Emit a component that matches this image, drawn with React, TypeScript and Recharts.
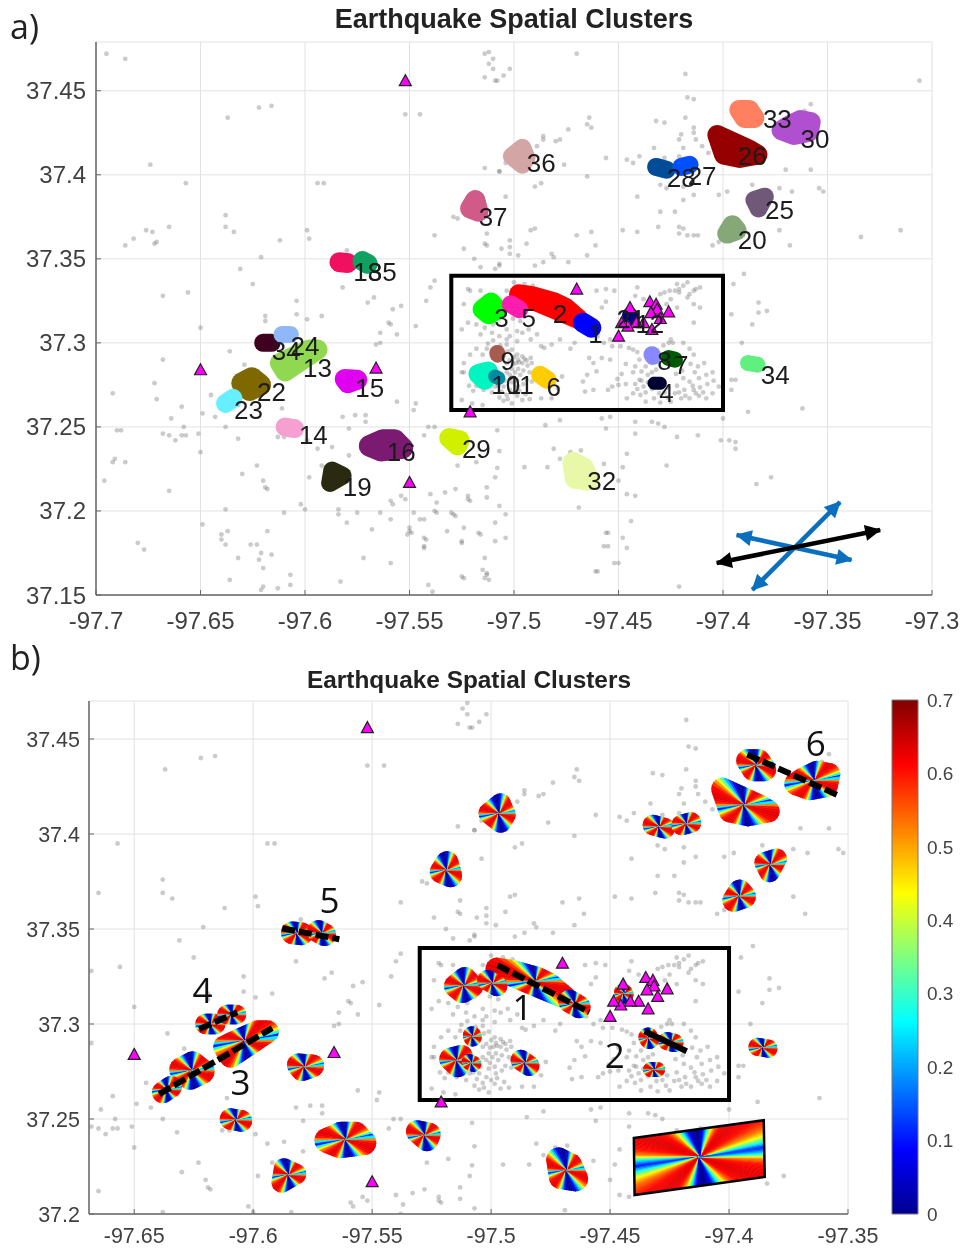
// Earthquake spatial clusters, panels a) and b) with a jet colour bar
import { ScatterChart, Scatter, XAxis, YAxis, CartesianGrid, ReferenceArea, BarChart, Bar } from 'recharts'

type LL = [number, number]

// ─── Data ────────────────────────────────────────────────────────────────────

const quakes: LL[] = [
  [-97.695,37.472],[-97.686,37.469],[-97.622,37.44],[-97.616,37.441],[-97.637,37.434],[-97.552,37.436],[-97.545,37.436],[-97.674,37.406],[-97.657,37.395],[-97.594,37.395],[-97.591,37.395],
  [-97.638,37.376],[-97.638,37.369],[-97.634,37.366],[-97.665,37.369],[-97.676,37.367],[-97.673,37.366],[-97.682,37.362],[-97.686,37.358],[-97.672,37.359],[-97.671,37.36],[-97.612,37.361],[-97.599,37.367],[-97.598,37.362],
  [-97.621,37.351],[-97.631,37.344],[-97.625,37.335],[-97.668,37.328],[-97.656,37.33],[-97.604,37.325],[-97.619,37.316],[-97.619,37.313],[-97.604,37.317],[-97.599,37.314],[-97.592,37.316],[-97.65,37.309],[-97.58,37.355],[-97.582,37.333],
  [-97.57,37.324],[-97.567,37.327],[-97.558,37.32],[-97.554,37.322],[-97.559,37.311],[-97.547,37.31],[-97.542,37.325],[-97.54,37.333],[-97.538,37.337],[-97.538,37.364],[-97.529,37.375],[-97.527,37.374],[-97.524,37.356],[-97.513,37.358],[-97.513,37.365],
  [-97.519,37.35],[-97.516,37.345],[-97.507,37.346],[-97.521,37.331],[-97.514,37.404],[-97.507,37.402],[-97.512,37.473],[-97.51,37.469],[-97.512,37.466],[-97.51,37.463],[-97.514,37.458],[-97.508,37.456],
  [-97.514,37.472],[-97.47,37.472],[-97.502,37.463],[-97.505,37.459],[-97.509,37.456],[-97.306,37.456],[-97.418,37.46],[-97.417,37.446],[-97.414,37.445],[-97.432,37.432],[-97.428,37.431],[-97.418,37.434],[-97.464,37.434],[-97.465,37.43],[-97.463,37.428],
  [-97.474,37.427],[-97.478,37.421],[-97.48,37.42],[-97.486,37.423],[-97.486,37.421],[-97.489,37.417],[-97.456,37.41],[-97.433,37.416],[-97.428,37.41],[-97.446,37.409],[-97.443,37.407],[-97.44,37.411],[-97.414,37.428],[-97.414,37.425],[-97.42,37.424],[-97.413,37.421],[-97.421,37.421],[-97.419,37.416],[-97.41,37.417],[-97.407,37.413],[-97.421,37.411],
  [-97.358,37.442],[-97.361,37.438],[-97.37,37.403],[-97.358,37.403],[-97.402,37.388],[-97.398,37.39],[-97.386,37.394],[-97.373,37.392],[-97.367,37.39],[-97.354,37.392],[-97.352,37.39],[-97.43,37.394],[-97.427,37.392],[-97.419,37.393],[-97.414,37.388],[-97.419,37.385],[-97.441,37.387],[-97.43,37.378],[-97.423,37.378],
  [-97.421,37.369],[-97.419,37.368],[-97.421,37.365],[-97.417,37.364],[-97.414,37.364],[-97.412,37.364],[-97.448,37.367],[-97.441,37.366],[-97.431,37.369],[-97.405,37.358],[-97.402,37.36],[-97.373,37.367],[-97.368,37.358],[-97.334,37.363],[-97.315,37.367],[-97.492,37.367],[-97.49,37.368],[-97.47,37.364],[-97.463,37.366],[-97.461,37.358],
  [-97.465,37.399],[-97.487,37.395],[-97.49,37.393],[-97.476,37.406],[-97.507,37.402],[-97.504,37.407],[-97.504,37.387],[-97.502,37.361],[-97.502,37.357],[-97.502,37.353],[-97.506,37.356],[-97.498,37.352],[-97.494,37.359],[-97.482,37.353],[-97.481,37.351],[-97.486,37.348],[-97.49,37.346],[-97.474,37.348],[-97.465,37.352],[-97.507,37.347],[-97.509,37.344],[-97.514,37.359],
  [-97.39,37.341],[-97.395,37.335],[-97.383,37.324],[-97.379,37.319],[-97.383,37.318],[-97.386,37.311],[-97.396,37.317],
  [-97.4605,37.331],[-97.456,37.332],[-97.452,37.331],[-97.441,37.333],[-97.442,37.328],[-97.438,37.326],[-97.43,37.329],[-97.428,37.33],[-97.4255,37.331],[-97.422,37.335],[-97.421,37.332],[-97.419,37.334],[-97.416,37.329],[-97.417,37.327],[-97.414,37.331],[-97.413,37.332],[-97.411,37.333],[-97.421,37.33],[-97.423,37.331],[-97.417,37.336],
  [-97.425,37.326],[-97.427,37.323],[-97.411,37.321],[-97.414,37.312],[-97.414,37.323],[-97.422,37.321],[-97.458,37.321],[-97.456,37.3245],[-97.454,37.302],[-97.457,37.3],[-97.46,37.304],[-97.453,37.298],[-97.449,37.298],[-97.445,37.297],[-97.443,37.296],[-97.458,37.291],[-97.462,37.288],[-97.464,37.291],[-97.454,37.29],[-97.4605,37.283],[-97.465,37.281],
  [-97.44,37.29],[-97.442,37.286],[-97.439,37.283],[-97.437,37.286],[-97.434,37.288],[-97.436,37.281],[-97.443,37.2825],[-97.44,37.278],[-97.434,37.2825],[-97.432,37.284],[-97.442,37.2755],[-97.438,37.274],[-97.425,37.302],[-97.424,37.3],[-97.426,37.3],[-97.419,37.3],[-97.416,37.2965],[-97.414,37.293],[-97.409,37.288],[-97.412,37.286],[-97.405,37.2825],[-97.408,37.281],[-97.4115,37.279],
  [-97.416,37.277],[-97.419,37.279],[-97.422,37.2745],[-97.4185,37.272],[-97.423,37.27],[-97.426,37.273],[-97.414,37.272],[-97.413,37.27],[-97.416,37.267],[-97.42,37.267],[-97.425,37.265],[-97.4305,37.27],[-97.433,37.267],[-97.437,37.265],[-97.4395,37.269],[-97.443,37.27],[-97.446,37.267],[-97.45,37.275],[-97.453,37.274],[-97.455,37.272],[-97.462,37.272],[-97.466,37.271],[-97.405,37.27],[-97.408,37.267],[-97.402,37.274],
  [-97.522,37.332],[-97.516,37.331],[-97.5035,37.331],[-97.5,37.336],[-97.495,37.335],[-97.491,37.334],[-97.524,37.323],[-97.522,37.312],[-97.525,37.308],[-97.518,37.311],[-97.516,37.305],[-97.514,37.309],[-97.51,37.311],[-97.507,37.3145],[-97.5105,37.306],[-97.507,37.304],[-97.5035,37.308],[-97.502,37.304],[-97.4985,37.307],[-97.497,37.313],[-97.5005,37.3145],[-97.5035,37.302],[-97.4985,37.301],[-97.496,37.306],[-97.493,37.308],[-97.492,37.302],[-97.489,37.305],[-97.487,37.298],[-97.4855,37.297],[-97.482,37.299],[-97.478,37.302],[-97.473,37.2965],[-97.471,37.3],
  [-97.518,37.2965],[-97.521,37.293],[-97.515,37.293],[-97.524,37.288],[-97.513,37.2965],[-97.5035,37.299],[-97.503,37.295],[-97.501,37.296],[-97.4985,37.293],[-97.496,37.292],[-97.498,37.29],[-97.494,37.2895],[-97.496,37.288],[-97.492,37.291],[-97.499,37.288],[-97.502,37.2895],[-97.4915,37.288],[-97.5035,37.288],[-97.501,37.2845],[-97.498,37.2845],[-97.502,37.281],[-97.497,37.281],[-97.501,37.2765],[-97.5035,37.2825],[-97.494,37.278],[-97.498,37.274],[-97.4915,37.277],[-97.4925,37.2665],[-97.496,37.266],[-97.4985,37.2685],[-97.502,37.272],[-97.5035,37.269],[-97.505,37.274],[-97.506,37.271],[-97.509,37.274],[-97.511,37.2775],[-97.5145,37.272],[-97.518,37.2745],[-97.5215,37.2745],[-97.524,37.2825],[-97.525,37.2825],[-97.503,37.2665],[-97.501,37.264],[-97.525,37.266],[-97.52,37.264],[-97.515,37.263],[-97.479,37.273],[-97.477,37.28],[-97.482,37.267],[-97.467,37.277],[-97.487,37.267],
  [-97.5,37.2915],[-97.4975,37.2885],[-97.495,37.2905],[-97.4935,37.2865],[-97.5005,37.2875],[-97.4995,37.2825],[-97.4955,37.2835],[-97.4925,37.2825],[-97.5005,37.2795],[-97.4985,37.2775],[-97.4955,37.2755],[-97.5045,37.2775],[-97.5065,37.2805],[-97.5075,37.2745],[-97.5105,37.2705],[-97.5,37.2705],[-97.4975,37.2715],[-97.4945,37.2695],[-97.5125,37.2755],[-97.5165,37.2775],[-97.5195,37.2715],[-97.507,37.2675],[-97.505,37.2655],[-97.51,37.3015],[-97.5125,37.2995],[-97.5065,37.2985],[-97.5085,37.2955],
  [-97.439,37.2775],[-97.436,37.2765],[-97.433,37.2785],[-97.441,37.2725],[-97.437,37.2705],[-97.434,37.2725],[-97.43,37.2735],[-97.428,37.2705],[-97.4265,37.2675],[-97.43,37.2645],[-97.421,37.2705],[-97.418,37.2685],[-97.4145,37.2745],[-97.411,37.2735],[-97.4095,37.2705],[-97.4115,37.2685],[-97.4075,37.2755],[-97.4045,37.2775],[-97.4225,37.2815],[-97.4195,37.2835],[-97.4135,37.2825],[-97.4155,37.2875],[-97.441,37.2945],[-97.436,37.2925],[-97.4315,37.2955],[-97.4285,37.2985],[-97.4465,37.2875],[-97.4485,37.2815],[-97.4505,37.2785],[-97.4465,37.2755],
  [-97.668,37.29],[-97.636,37.295],[-97.672,37.276],[-97.692,37.27],[-97.671,37.2665],[-97.645,37.269],[-97.643,37.256],[-97.649,37.258],[-97.659,37.262],[-97.629,37.287],[-97.632,37.263],[-97.611,37.261],[-97.664,37.255],[-97.638,37.25],[-97.688,37.248],[-97.69,37.248],[-97.668,37.246],[-97.665,37.245],[-97.662,37.242],[-97.658,37.25],[-97.659,37.245],[-97.657,37.245],[-97.651,37.246],[-97.65,37.235],[-97.632,37.243],[-97.613,37.244],[-97.61,37.244],
  [-97.691,37.231],[-97.692,37.229],[-97.686,37.229],[-97.696,37.218],[-97.665,37.212],[-97.623,37.227],[-97.63,37.222],[-97.619,37.214],[-97.62,37.218],[-97.618,37.213],[-97.602,37.204],[-97.6,37.201],[-97.61,37.199],[-97.638,37.201],[-97.649,37.192],[-97.618,37.188],[-97.637,37.188],[-97.64,37.186],[-97.64,37.183],[-97.638,37.18],[-97.68,37.181],[-97.677,37.177],
  [-97.626,37.18],[-97.623,37.18],[-97.621,37.175],[-97.616,37.174],[-97.632,37.172],[-97.622,37.171],[-97.62,37.166],[-97.636,37.159],[-97.607,37.162],[-97.607,37.156],[-97.62,37.155],[-97.621,37.153],[-97.613,37.154],
  [-97.599,37.242],[-97.594,37.237],[-97.587,37.238],[-97.592,37.227],[-97.586,37.226],[-97.598,37.22],[-97.579,37.233],[-97.582,37.256],[-97.576,37.257],[-97.571,37.257],[-97.579,37.249],[-97.571,37.253],[-97.556,37.265],[-97.548,37.26],[-97.547,37.264],[-97.564,37.306],[-97.564,37.3],[-97.566,37.299],[-97.556,37.305],[-97.56,37.312],[-97.541,37.25],[-97.538,37.25],[-97.508,37.248],[-97.543,37.245],
  [-97.584,37.201],[-97.584,37.198],[-97.575,37.199],[-97.564,37.199],[-97.559,37.195],[-97.58,37.193],[-97.568,37.189],[-97.55,37.19],[-97.549,37.187],[-97.551,37.186],[-97.543,37.195],[-97.537,37.199],[-97.529,37.198],[-97.524,37.19],[-97.572,37.172],[-97.583,37.158],[-97.559,37.169],[-97.542,37.183],[-97.543,37.178],[-97.541,37.156],[-97.539,37.152],[-97.525,37.181],[-97.516,37.186],[-97.514,37.172],[-97.524,37.16],[-97.513,37.162],[-97.512,37.159],
  [-97.507,37.2356],[-97.508,37.2256],[-97.509,37.22],[-97.513,37.214],[-97.513,37.208],[-97.507,37.203],[-97.504,37.198],[-97.509,37.193],[-97.517,37.187],[-97.504,37.184],[-97.509,37.182],[-97.525,37.182],[-97.515,37.165],[-97.513,37.163],[-97.514,37.16],[-97.525,37.161],[-97.532,37.188],
  [-97.528,37.213],[-97.522,37.209],[-97.522,37.207],[-97.521,37.206],[-97.533,37.211],[-97.54,37.21],[-97.537,37.205],[-97.538,37.2],[-97.53,37.199],[-97.528,37.197],[-97.545,37.195],[-97.55,37.188],[-97.548,37.199],[-97.559,37.206],[-97.558,37.204],[-97.554,37.209],[-97.552,37.207],[-97.543,37.184],[-97.543,37.179],[-97.527,37.227],[-97.518,37.229],
  [-97.495,37.226],[-97.484,37.226],[-97.481,37.237],[-97.478,37.231],[-97.473,37.235],[-97.468,37.236],[-97.457,37.228],[-97.456,37.249],[-97.469,37.202],[-97.456,37.187],[-97.457,37.179],[-97.452,37.169],[-97.461,37.164],
  [-97.446,37.234],[-97.448,37.226],[-97.45,37.218],[-97.446,37.21],[-97.442,37.209],[-97.444,37.194],[-97.455,37.187],[-97.448,37.184],[-97.446,37.178],[-97.455,37.179],[-97.45,37.169],[-97.46,37.164],[-97.421,37.155],[-97.427,37.227],[-97.422,37.244],[-97.412,37.245],[-97.442,37.253],[-97.442,37.246],[-97.434,37.253],[-97.431,37.252],[-97.428,37.25],[-97.401,37.242],[-97.397,37.242],[-97.394,37.241],[-97.394,37.237],[-97.384,37.216],[-97.377,37.22],
  [-97.454,37.256],[-97.458,37.255],[-97.478,37.254],[-97.485,37.251],[-97.4,37.255],[-97.388,37.259],[-97.362,37.261],[-97.396,37.278],[-97.394,37.278],[-97.396,37.272],[-97.391,37.3],
]

const stations: LL[] = [
  [-97.552,37.456],[-97.65,37.284],[-97.566,37.285],[-97.55,37.217],[-97.521,37.259],[-97.47,37.332],
  [-97.435,37.3245],[-97.432,37.323],[-97.4315,37.32],[-97.4345,37.318],[-97.426,37.3185],[-97.43,37.3145],[-97.434,37.308],[-97.438,37.312],[-97.4415,37.312],[-97.4455,37.31],[-97.4485,37.312],[-97.4445,37.321],[-97.45,37.304],
]

const clusterPoints: LL[][] = [
  [[-97.4976,37.329],[-97.492,37.328],[-97.4855,37.3255],[-97.4805,37.324],[-97.4755,37.321],[-97.471,37.316],[-97.469,37.314]],
  [[-97.467,37.312],[-97.463,37.309]],
  [[-97.515,37.32],[-97.511,37.324],[-97.508,37.32],[-97.512,37.317]],
  [[-97.433,37.276],[-97.43,37.276]],
  [[-97.5015,37.323],[-97.4975,37.32]],
  [[-97.4875,37.281],[-97.484,37.278]],
  [[-97.426,37.291],[-97.423,37.29]],
  [[-97.434,37.293],[-97.4335,37.292]],
  [[-97.508,37.294],[-97.5078,37.293]],
  [[-97.517,37.2815],[-97.5125,37.283],[-97.514,37.278]],
  [[-97.509,37.28],[-97.5075,37.279]],
  [[-97.4445,37.3165],[-97.444,37.3155]],
  [[-97.612,37.288],[-97.607,37.291],[-97.6025,37.293],[-97.598,37.296],[-97.594,37.296],[-97.6095,37.283]],
  [[-97.6095,37.25],[-97.605,37.249]],
  [[-97.581,37.2785],[-97.575,37.278],[-97.5795,37.276]],
  [[-97.569,37.2387],[-97.563,37.242],[-97.557,37.242],[-97.5535,37.2375],[-97.5635,37.236]],
  [[-97.62,37.3],[-97.616,37.3]],
  [[-97.5835,37.348],[-97.5797,37.3475]],
  [[-97.588,37.2166],[-97.584,37.221],[-97.582,37.221],[-97.587,37.224]],
  [[-97.398,37.365],[-97.3935,37.367],[-97.3955,37.37]],
  [[-97.63,37.276],[-97.6255,37.279],[-97.6215,37.275],[-97.6265,37.272]],
  [[-97.638,37.264],[-97.6345,37.267]],
  [[-97.385,37.385],[-97.38,37.387],[-97.383,37.38]],
  [[-97.4027,37.4237],[-97.398,37.4195],[-97.393,37.415],[-97.3875,37.415],[-97.3835,37.412],[-97.3995,37.412],[-97.392,37.41]],
  [[-97.432,37.4047],[-97.427,37.403]],
  [[-97.4199,37.4047],[-97.416,37.406]],
  [[-97.531,37.2434],[-97.526,37.242],[-97.527,37.239]],
  [[-97.372,37.4265],[-97.368,37.4296],[-97.363,37.4326],[-97.358,37.4314],[-97.359,37.4255],[-97.366,37.4237]],
  [[-97.611,37.305],[-97.607,37.305]],
  [[-97.4716,37.2285],[-97.467,37.2256],[-97.4645,37.2185],[-97.4705,37.2196]],
  [[-97.3922,37.4386],[-97.3875,37.4386],[-97.385,37.4338],[-97.3897,37.4338]],
  [[-97.388,37.288],[-97.3835,37.287]],
  [[-97.5725,37.3487],[-97.57,37.347]],
  [[-97.501,37.411],[-97.496,37.416],[-97.494,37.41],[-97.496,37.406]],
  [[-97.521,37.38],[-97.5185,37.385],[-97.517,37.378]],
]
const clusterColors = [
  '#FF0000','#0000FF','#00FF00','#000033','#FF1DB0','#FFCC00','#005A00','#8888FF','#A85C50','#00F5C0','#008CA0','#000080',
  '#90D850','#F5A0D0','#E000F0','#7A1A70','#400020','#F01060','#2A2A10','#86A878','#806800','#66F0FF','#705878','#960000',
  '#004C99','#0050FF','#D0F000','#B050D0','#90B8F8','#E8F8A8','#FF8060','#60F080','#10A060','#D4A5A5','#D05A88',
]
const blobRadius = [10,10,10,6.5,9,9,8,8.5,8,10,7,8,10,9.5,10,11,9,10,9,10,11,9.5,9,10,9,9,10,10,8.5,11,10,8,10,9,10]

const clusterLabels: { name: string; lon: number; lat: number }[] = [
  { name: '36', lon: -97.487, lat: 37.407 }, { name: '37', lon: -97.51, lat: 37.375 }, { name: '33', lon: -97.374, lat: 37.433 },
  { name: '30', lon: -97.356, lat: 37.421 }, { name: '26', lon: -97.386, lat: 37.411 }, { name: '28', lon: -97.42, lat: 37.398 },
  { name: '27', lon: -97.41, lat: 37.399 }, { name: '25', lon: -97.373, lat: 37.379 }, { name: '20', lon: -97.386, lat: 37.361 },
  { name: '18', lon: -97.57, lat: 37.342 }, { name: '35', lon: -97.563, lat: 37.342 }, { name: '3', lon: -97.506, lat: 37.315 },
  { name: '5', lon: -97.493, lat: 37.315 }, { name: '2', lon: -97.478, lat: 37.317 }, { name: '1', lon: -97.461, lat: 37.305 },
  { name: '21', lon: -97.444, lat: 37.314 }, { name: '12', lon: -97.435, lat: 37.311 }, { name: '9', lon: -97.503, lat: 37.289 },
  { name: '10', lon: -97.504, lat: 37.275 }, { name: '11', lon: -97.497, lat: 37.275 }, { name: '6', lon: -97.481, lat: 37.274 },
  { name: '8', lon: -97.428, lat: 37.289 }, { name: '7', lon: -97.42, lat: 37.287 }, { name: '4', lon: -97.427, lat: 37.27 },
  { name: '34', lon: -97.375, lat: 37.281 }, { name: '13', lon: -97.594, lat: 37.285 }, { name: '24', lon: -97.6, lat: 37.298 },
  { name: '34', lon: -97.609, lat: 37.295 }, { name: '22', lon: -97.616, lat: 37.271 }, { name: '23', lon: -97.627, lat: 37.26 },
  { name: '15', lon: -97.569, lat: 37.273 }, { name: '14', lon: -97.596, lat: 37.245 }, { name: '16', lon: -97.554, lat: 37.235 },
  { name: '19', lon: -97.575, lat: 37.214 }, { name: '29', lon: -97.518, lat: 37.237 }, { name: '32', lon: -97.458, lat: 37.218 },
]

const faultLabels: { name: string; lon: number; lat: number }[] = [
  { name: '1', lon: -97.4868, lat: 37.309 }, { name: '2', lon: -97.448, lat: 37.2837 }, { name: '3', lon: -97.6053, lat: 37.27 },
  { name: '4', lon: -97.6213, lat: 37.3179 }, { name: '5', lon: -97.5679, lat: 37.3653 }, { name: '6', lon: -97.3636, lat: 37.4479 },
]
const faultLines: LL[][] = [
  [[-97.4973,37.3309],[-97.4587,37.3062]],
  [[-97.4355,37.2962],[-97.4178,37.2857]],
  [[-97.6395,37.2631],[-97.592,37.2978]],
  [[-97.6227,37.2973],[-97.6067,37.3062]],
  [[-97.5878,37.3504],[-97.5638,37.3446]],
  [[-97.3923,37.4418],[-97.354,37.4203]],
]

const blueArrows: LL[][] = [
  [[-97.386,37.153],[-97.344,37.2053]],
  [[-97.3935,37.1857],[-97.3385,37.1708]],
]
const blackArrow: LL[] = [[-97.403,37.169],[-97.3248,37.1887]]

const studyBox = { lon1: -97.53, lon2: -97.4, lat1: 37.26, lat2: 37.34 }
const keyCentre: LL = [-97.4124, 37.23]
const keyCorners: LL[] = [[-97.44,37.24],[-97.3854,37.2494],[-97.385,37.2195],[-97.4397,37.21]]

// value around the fan, every 5 degrees going counter-clockwise from the strike
const fanValues = [
  0.1,0.28,0.44,0.53,0.58,0.61,0.62,0.63,0.63,0.62,0.59,0.53,0.44,0.32,0.2,0.1,0.05,0.02,
  0.01,0.02,0.04,0.08,0.14,0.22,0.32,0.42,0.51,0.57,0.61,0.62,0.63,0.63,0.62,0.6,0.52,0.25,
]

const xTicksA = [-97.7,-97.65,-97.6,-97.55,-97.5,-97.45,-97.4,-97.35,-97.3]
const yTicksA = [37.15,37.2,37.25,37.3,37.35,37.4,37.45]
const xTicksB = [-97.65,-97.6,-97.55,-97.5,-97.45,-97.4,-97.35]
const yTicksB = [37.2,37.25,37.3,37.35,37.4,37.45]
const barTicks = [0,0.1,0.2,0.3,0.4,0.5,0.6,0.7]

// ─── Layout ──────────────────────────────────────────────────────────────────

const FONT = '"Liberation Sans", Arial, sans-serif'
const domA = { x: [-97.7, -97.3], y: [37.15, 37.479] }
const domB = { x: [-97.669, -97.35], y: [37.2, 37.47] }
const pxLonA = 836 / (domA.x[1] - domA.x[0])
const pxLatA = 553 / (domA.y[1] - domA.y[0])
const pxLonB = 759 / (domB.x[1] - domB.x[0])
const pxLatB = 513 / (domB.y[1] - domB.y[0])

const toRows = (pts: LL[]) => pts.map(([lon, lat]) => ({ lon, lat }))
const quakeRowsA = toRows(quakes)
const quakeRowsB = toRows(quakes.filter(([lon, lat]) => lon >= domB.x[0] && lon <= domB.x[1] && lat >= domB.y[0] && lat <= domB.y[1]))
const stationRows = toRows(stations)

const mean = (pts: LL[], i: 0 | 1) => pts.reduce((s, p) => s + p[i], 0) / pts.length
const blobRows = clusterPoints.map((pts, i) => ({ lon: mean(pts, 0), lat: mean(pts, 1), index: i }))

function jet(v: number) {
  const t = Math.max(0, Math.min(1, v / 0.7))
  const ch = (c: number) => Math.round(255 * Math.max(0, Math.min(1, 1.5 - Math.abs(4 * t - c))))
  return `rgb(${ch(3)},${ch(2)},${ch(1)})`
}

// contorno de un cluster: envolvente convexa de sus puntos con radio r, en px relativos al centro
function blobOutline(index: number, pxLon: number, pxLat: number, r: number) {
  const { lon, lat } = blobRows[index]
  const pts: LL[] = []
  for (const p of clusterPoints[index]) {
    for (let k = 0; k < 20; k++) {
      const a = (k / 20) * 2 * Math.PI
      pts.push([(p[0] - lon) * pxLon + r * Math.cos(a), -(p[1] - lat) * pxLat + r * Math.sin(a)])
    }
  }
  pts.sort((a, b) => a[0] - b[0] || a[1] - b[1])
  const cross = (o: LL, a: LL, b: LL) => (a[0] - o[0]) * (b[1] - o[1]) - (a[1] - o[1]) * (b[0] - o[0])
  const half = (list: LL[]) => {
    const out: LL[] = []
    for (const p of list) {
      while (out.length >= 2 && cross(out[out.length - 2], out[out.length - 1], p) <= 0) out.pop()
      out.push(p)
    }
    out.pop()
    return out
  }
  return [...half(pts), ...half([...pts].reverse())]
}
const outlineAt = (hull: LL[], cx: number, cy: number) => hull.map(([x, y]) => `${cx + x},${cy + y}`).join(' ')

// ─── Marks ───────────────────────────────────────────────────────────────────

const QuakeDot = (p: any) => <circle cx={p.cx} cy={p.cy} r={2.4} fill="#6f6f6f" fillOpacity={0.36} />
const NoMark = () => <g />

const Station = (p: any) => (
  <polygon
    points={`${p.cx},${p.cy - 6} ${p.cx + 6},${p.cy + 5} ${p.cx - 6},${p.cy + 5}`}
    fill="#FF00FF" stroke="#222" strokeWidth={1.2}
  />
)

const Blob = (p: any) => (
  <polygon points={outlineAt(blobOutline(p.payload.index, pxLonA, pxLatA, blobRadius[p.payload.index]), p.cx, p.cy)}
    fill={clusterColors[p.payload.index]} />
)

const ClusterLabel = (p: any) => (
  <text x={p.cx} y={p.cy} textAnchor="middle" dominantBaseline="central"
    fontFamily={FONT} fontSize={26} fill="#1c1c1c">{p.payload.name}</text>
)
const FaultLabel = (p: any) => (
  <text x={p.cx} y={p.cy} textAnchor="middle" dominantBaseline="central"
    fontFamily='"Open Sans", sans-serif' fontSize={35} fill="#111">{p.payload.name}</text>
)

function Fan({ cx, cy, R, steps }: { cx: number; cy: number; R: number; steps: number }) {
  const tilt = 8
  const dA = 5 / steps
  const n = fanValues.length
  const wedges = []
  for (let half = 0; half < 2; half++) {
    for (let i = 0; i < n * steps; i++) {
      const k = i / steps
      const a = Math.floor(k) % n
      const b = (a + 1) % n
      const f = k - Math.floor(k)
      const v = fanValues[a] * (1 - f) + fanValues[b] * f
      const a0 = ((tilt + half * 180 + i * dA) * Math.PI) / 180
      const a1 = ((tilt + half * 180 + (i + 1) * dA) * Math.PI) / 180
      const d = `M${cx},${cy}L${cx + R * Math.cos(a0)},${cy - R * Math.sin(a0)}L${cx + R * Math.cos(a1)},${cy - R * Math.sin(a1)}Z`
      const color = jet(v)
      wedges.push(<path key={`${half}-${i}`} d={d} fill={color} stroke={color} strokeWidth={0.6} />)
    }
  }
  return <>{wedges}</>
}

const Rosette = (p: any) => {
  const { index } = p.payload
  const id = `rose-${index}`
  const hull = blobOutline(index, pxLonB, pxLatB, blobRadius[index] * 1.14)
  return (
    <g>
      <clipPath id={id}><polygon points={outlineAt(hull, p.cx, p.cy)} /></clipPath>
      <g clipPath={`url(#${id})`}>
        <Fan cx={p.cx} cy={p.cy} R={90} steps={1} />
      </g>
    </g>
  )
}

const KeyPanel = (p: any) => {
  const pts = keyCorners
    .map(([lon, lat]) => `${p.cx + (lon - keyCentre[0]) * pxLonB},${p.cy - (lat - keyCentre[1]) * pxLatB}`)
    .join(' ')
  return (
    <g>
      <clipPath id="key-clip"><polygon points={pts} /></clipPath>
      <g clipPath="url(#key-clip)"><Fan cx={p.cx} cy={p.cy} R={95} steps={4} /></g>
      <polygon points={pts} fill="none" stroke="#000" strokeWidth={2.5} />
    </g>
  )
}

// punta de flecha, girada hacia fuera del otro extremo
const arrowHead = (color: string, line: LL[]) => (p: any) => {
  const other = line[0][0] === p.payload.lon ? line[1] : line[0]
  const dx = (p.payload.lon - other[0]) * pxLonA
  const dy = -(p.payload.lat - other[1]) * pxLatA
  const deg = (Math.atan2(dy, dx) * 180) / Math.PI
  return (
    <polygon
      points="1,0 -15,-8 -15,8"
      transform={`translate(${p.cx},${p.cy}) rotate(${deg})`}
      fill={color}
    />
  )
}

const tickA = { fill: '#404040', fontSize: 24, fontFamily: FONT }
const tickB = { fill: '#404040', fontSize: 21.5, fontFamily: FONT }
const axisLine = { stroke: '#666', strokeWidth: 1.5 }
const tickLine = { stroke: '#666', strokeWidth: 1 }

const PanelA = () => (
  <ScatterChart width={964} height={640} margin={{ top: 42, right: 32, left: 10, bottom: 10 }}>
    <CartesianGrid stroke="#e2e2e2" strokeWidth={1} />
    <XAxis type="number" dataKey="lon" domain={domA.x} ticks={xTicksA} interval={0} height={35} allowDataOverflow
      tick={tickA} axisLine={axisLine} tickLine={tickLine} tickSize={-5} tickMargin={22} />
    <YAxis type="number" dataKey="lat" domain={domA.y} ticks={yTicksA} interval={0} width={86} allowDataOverflow
      tick={tickA} axisLine={axisLine} tickLine={tickLine} tickSize={-5} tickMargin={15} />
    <Scatter data={quakeRowsA} shape={QuakeDot} isAnimationActive={false} />
    <Scatter data={blobRows} shape={Blob} isAnimationActive={false} />
    <Scatter data={stationRows} shape={Station} isAnimationActive={false} />
    <ReferenceArea x1={studyBox.lon1} x2={studyBox.lon2} y1={studyBox.lat1} y2={studyBox.lat2}
      fill="none" fillOpacity={0} stroke="#000" strokeWidth={4} />
    {blueArrows.map((line, i) => (
      <Scatter key={i} data={toRows(line)} isAnimationActive={false}
        line={{ stroke: '#0B6FC0', strokeWidth: 4.5 }} shape={arrowHead('#0B6FC0', line)} />
    ))}
    <Scatter data={toRows(blackArrow)} isAnimationActive={false}
      line={{ stroke: '#000', strokeWidth: 4.5 }} shape={arrowHead('#000', blackArrow)} />
    <Scatter data={clusterLabels} shape={ClusterLabel} isAnimationActive={false} />
  </ScatterChart>
)

const PanelB = () => (
  <ScatterChart width={964} height={609} margin={{ top: 61, right: 116, left: 10, bottom: 5 }}>
    <CartesianGrid stroke="#e2e2e2" strokeWidth={1} />
    <XAxis type="number" dataKey="lon" domain={domB.x} ticks={xTicksB} interval={0} height={30} allowDataOverflow
      tick={tickB} axisLine={axisLine} tickLine={tickLine} tickSize={-5} tickMargin={19} />
    <YAxis type="number" dataKey="lat" domain={domB.y} ticks={yTicksB} interval={0} width={79} allowDataOverflow
      tick={tickB} axisLine={axisLine} tickLine={tickLine} tickSize={-5} tickMargin={14} />
    <Scatter data={quakeRowsB} shape={QuakeDot} isAnimationActive={false} />
    <Scatter data={blobRows} shape={Rosette} isAnimationActive={false} />
    <Scatter data={toRows([keyCentre])} shape={KeyPanel} isAnimationActive={false} />
    <Scatter data={stationRows} shape={Station} isAnimationActive={false} />
    <ReferenceArea x1={studyBox.lon1} x2={studyBox.lon2} y1={studyBox.lat1} y2={studyBox.lat2}
      fill="none" fillOpacity={0} stroke="#000" strokeWidth={4} />
    {faultLines.map((line, i) => (
      <Scatter key={i} data={toRows(line)} isAnimationActive={false} shape={NoMark}
        line={{ stroke: '#000', strokeWidth: 6, strokeDasharray: i === 1 ? undefined : '13 4' }} />
    ))}
    <Scatter data={faultLabels} shape={FaultLabel} isAnimationActive={false} />
  </ScatterChart>
)

const ColorBar = () => (
  <BarChart width={84} height={534} data={[{ name: 'slip', top: 0.7 }]} barCategoryGap={0}
    margin={{ top: 10, right: 0, left: 12, bottom: 10 }}>
    <defs>
      <linearGradient id="jetBar" x1="0" y1="1" x2="0" y2="0">
        <stop offset="0" stopColor="#00008F" />
        <stop offset="0.125" stopColor="#0000FF" />
        <stop offset="0.375" stopColor="#00FFFF" />
        <stop offset="0.625" stopColor="#FFFF00" />
        <stop offset="0.875" stopColor="#FF0000" />
        <stop offset="1" stopColor="#800000" />
      </linearGradient>
    </defs>
    <XAxis dataKey="name" hide />
    <YAxis orientation="right" type="number" domain={[0, 0.7]} ticks={barTicks} interval={0} width={46}
      tick={{ fill: '#444', fontSize: 19, fontFamily: FONT }} axisLine={false} tickLine={false} tickMargin={3} />
    <Bar dataKey="top" fill="url(#jetBar)" stroke="#777" strokeWidth={1} isAnimationActive={false} />
  </BarChart>
)

const Title = ({ top, left, width, size, children }: any) => (
  <div style={{ position: 'absolute', top, left, width, textAlign: 'center', fontFamily: FONT, fontWeight: 'bold', fontSize: size, color: '#222', whiteSpace: 'nowrap' }}>
    {children}
  </div>
)
const PanelTag = ({ top, children }: any) => (
  <div style={{ position: 'absolute', top, left: 10, fontFamily: '"Open Sans", sans-serif', fontSize: 34, color: '#222' }}>{children}</div>
)

export default function App() {
  return (
    <div style={{ position: 'absolute', left: 0, top: 0, width: 964, height: 1249, background: '#fff', overflow: 'hidden', filter: 'blur(0.4px)' }}>
      <div style={{ position: 'absolute', left: 0, top: 0 }}><PanelA /></div>
      <div style={{ position: 'absolute', left: 0, top: 640 }}><PanelB /></div>
      <div style={{ position: 'absolute', left: 880, top: 690 }}><ColorBar /></div>
      <Title top={4} left={214} width={600} size={27}>Earthquake Spatial Clusters</Title>
      <Title top={666} left={169} width={600} size={24.4}>Earthquake Spatial Clusters</Title>
      <PanelTag top={3}>a)</PanelTag>
      <PanelTag top={634}>b)</PanelTag>
    </div>
  )
}
